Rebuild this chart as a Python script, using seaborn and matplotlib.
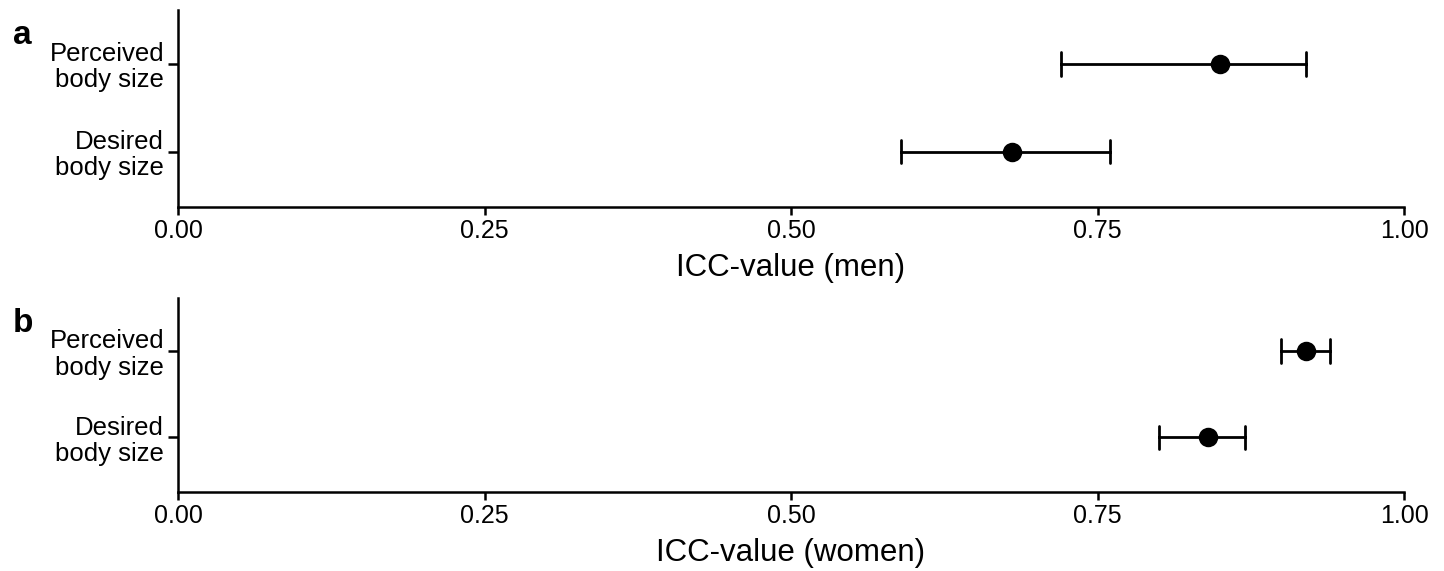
import matplotlib
matplotlib.use("Agg")
import matplotlib.pyplot as plt
import seaborn as sns
import pandas as pd

# ICC estimates with 95% CI (lower, estimate, upper)
measures = ["Perceived\nbody size", "Desired\nbody size"]
men_lower = [0.72, 0.59]
men_est = [0.85, 0.68]
men_upper = [0.92, 0.76]
women_lower = [0.90, 0.80]
women_est = [0.92, 0.84]
women_upper = [0.94, 0.87]
x_ticks = [0.0, 0.25, 0.5, 0.75, 1.0]
x_tick_labels = ["0.00", "0.25", "0.50", "0.75", "1.00"]

sns.set_style("ticks", {"axes.edgecolor": "black", "text.color": "black",
                        "xtick.color": "black", "ytick.color": "black",
                        "axes.labelcolor": "black"})
plt.rcParams["font.family"] = ["Liberation Sans", "DejaVu Sans"]


def make_df(lo, est, hi):
    rows = []
    for m, a, b, c in zip(measures, lo, est, hi):
        for v in (a, b, c):
            rows.append({"measure": m, "icc": v})
    return pd.DataFrame(rows)


fig = plt.figure(figsize=(14.44, 5.71), dpi=100)
ax_a = fig.add_axes([0.1233, 0.6375, 0.849, 0.345])
ax_b = fig.add_axes([0.1233, 0.1384, 0.849, 0.3396])

panels = [
    (ax_a, make_df(men_lower, men_est, men_upper), "ICC-value (men)", "a", 0.923),
    (ax_b, make_df(women_lower, women_est, women_upper), "ICC-value (women)", "b", 0.4186),
]

for ax, df, xlabel, tag, ty in panels:
    sns.pointplot(data=df, x="icc", y="measure", order=measures,
                  estimator="median",
                  errorbar=lambda v: (v.min(), v.max()),
                  color="black", linestyle="none", markers="o",
                  markersize=12, capsize=0.27, err_kws={"linewidth": 2},
                  ax=ax)
    ax.set_xlim(0, 1)
    ax.set_ylim(1.63, -0.61)
    ax.set_xticks(x_ticks)
    ax.set_xticklabels(x_tick_labels, fontsize=18)
    ax.tick_params(axis="y", labelsize=18.5, length=7, width=1.8, pad=3)
    ax.tick_params(axis="x", length=6, width=1.8, pad=3)
    for lab in ax.get_yticklabels():
        lab.set_horizontalalignment("right")
        lab.set_multialignment("right")
        lab.set_linespacing(1.12)
    ax.set_xlabel(xlabel, fontsize=22.5, labelpad=7)
    ax.set_ylabel("")
    sns.despine(ax=ax)
    for side in ("left", "bottom"):
        ax.spines[side].set_linewidth(1.8)
    fig.text(0.009, ty, tag, fontsize=24, fontweight="bold",
             ha="left", va="baseline")

fig.savefig("out.png", dpi=100)
